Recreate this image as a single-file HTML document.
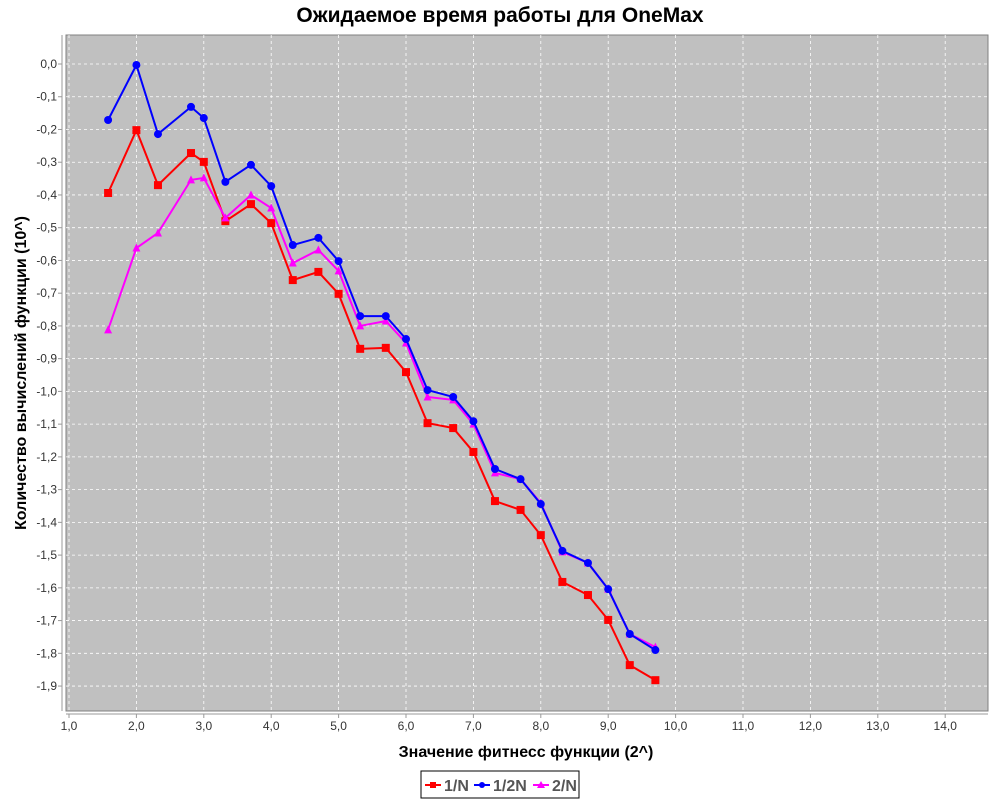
<!DOCTYPE html>
<html><head><meta charset="utf-8"><style>
body{margin:0;background:#fff;font-family:"Liberation Sans",sans-serif;}
svg{display:block}
</style></head><body>
<svg id="chart" width="1000" height="800" xmlns="http://www.w3.org/2000/svg">
<text x="500" y="22" text-anchor="middle" font-size="21" font-weight="bold" font-family="Liberation Sans, sans-serif">Ожидаемое время работы для OneMax</text>
<rect x="66" y="35" width="922" height="676" fill="#c0c0c0" stroke="#808080"/>
<g id="grid"></g>
<line x1="62" y1="35" x2="62" y2="711" stroke="#999"/>
<line x1="66" y1="714" x2="988" y2="714" stroke="#999"/>
<g id="ticks" font-size="12" font-family="Liberation Sans, sans-serif" fill="#333"></g>
<g id="series"></g>
<text x="526" y="757" text-anchor="middle" font-size="16" font-weight="bold">Значение фитнесс функции (2^)</text>
<text transform="translate(26,373) rotate(-90)" text-anchor="middle" font-size="16" font-weight="bold">Количество вычислений функции (10^)</text>
<g>
<rect x="421" y="771" width="158" height="27" fill="#fff" stroke="#000"/>
<g><line x1="425" y1="785" x2="441" y2="785" stroke="#f00" stroke-width="2"/><rect x="430" y="782" width="6" height="6" fill="#f00"/><text x="444" y="791" font-size="16" font-weight="bold" fill="#555">1/N</text></g>
<g><line x1="474" y1="785" x2="490" y2="785" stroke="#00f" stroke-width="2"/><circle cx="482" cy="785" r="3" fill="#00f"/><text x="493" y="791" font-size="16" font-weight="bold" fill="#555">1/2N</text></g>
<g><line x1="533" y1="785" x2="549" y2="785" stroke="#f0f" stroke-width="2"/><polygon points="541,781 545,788 537,788" fill="#f0f"/><text x="552" y="791" font-size="16" font-weight="bold" fill="#555">2/N</text></g>
</g>
</svg>
<script>
const xVals=[1.58,2.0,2.32,2.81,3.0,3.32,3.7,4.0,4.32,4.7,5.0,5.32,5.7,6.0,6.32,6.7,7.0,7.32,7.7,8.0,8.32,8.7,9.0,9.32,9.7];
const red=[-0.394,-0.202,-0.370,-0.272,-0.299,-0.480,-0.428,-0.486,-0.660,-0.635,-0.702,-0.870,-0.867,-0.941,-1.097,-1.112,-1.185,-1.335,-1.362,-1.439,-1.582,-1.622,-1.698,-1.836,-1.882];
const blue=[-0.171,-0.003,-0.214,-0.131,-0.165,-0.360,-0.308,-0.373,-0.553,-0.531,-0.602,-0.770,-0.770,-0.840,-0.996,-1.017,-1.091,-1.237,-1.268,-1.344,-1.487,-1.524,-1.604,-1.741,-1.790];
const magenta=[-0.812,-0.562,-0.516,-0.354,-0.348,-0.470,-0.400,-0.440,-0.608,-0.568,-0.632,-0.800,-0.785,-0.852,-1.017,-1.026,-1.100,-1.249,-1.268,-1.341,-1.490,-1.524,-1.604,-1.741,-1.781];
const xTicks=[1,2,3,4,5,6,7,8,9,10,11,12,13,14];
const yTicks=[0,-0.1,-0.2,-0.3,-0.4,-0.5,-0.6,-0.7,-0.8,-0.9,-1.0,-1.1,-1.2,-1.3,-1.4,-1.5,-1.6,-1.7,-1.8,-1.9];
const NS="http://www.w3.org/2000/svg";
function X(v){return 69+(v-1)*67.4;}
function Y(v){return 64-v*327.4;}
function mk(t,a,p){const e=document.createElementNS(NS,t);for(const k in a)e.setAttribute(k,a[k]);p.appendChild(e);return e;}
const grid=document.getElementById('grid'),ticks=document.getElementById('ticks'),ser=document.getElementById('series');
const fmt=v=>v.toFixed(1).replace('.',',').replace('-0,0','0,0');
xTicks.forEach(v=>{
 const g=mk('line',{x1:X(v),y1:35,x2:X(v),y2:711,stroke:'#fff','stroke-dasharray':'3,3','stroke-width':0.8},grid);
 
 
 const tk=mk('line',{x1:X(v),y1:714,x2:X(v),y2:718,stroke:'#999'},ticks);
 
 
 const t=mk('text',{x:X(v),y:730,'text-anchor':'middle'},ticks);t.textContent=fmt(v);
 
 
});
yTicks.forEach(v=>{
 const g=mk('line',{x1:66,y1:Y(v),x2:988,y2:Y(v),stroke:'#fff','stroke-dasharray':'3,3','stroke-width':0.8},grid);
 
 
 const tk=mk('line',{x1:58,y1:Y(v),x2:62,y2:Y(v),stroke:'#999'},ticks);
 
 
 const t=mk('text',{x:57,y:Y(v)+4,'text-anchor':'end'},ticks);t.textContent=fmt(v);
 
 
});
function draw(vals,color,shape,name){
 const g=mk('g',{},ser);
 
 
 const pl=mk('polyline',{points:vals.map((v,i)=>X(xVals[i])+','+Y(v)).join(' '),fill:'none',stroke:color,'stroke-width':2},g);
 
 
 vals.forEach((v,i)=>{
  const x=X(xVals[i]),y=Y(v);let m;
  if(shape==='sq')m=mk('rect',{x:x-4,y:y-4,width:8,height:8,fill:color},g);
  else if(shape==='c')m=mk('circle',{cx:x,cy:y,r:4,fill:color},g);
  else m=mk('polygon',{points:`${x},${y-4.5} ${x+4},${y+3.5} ${x-4},${y+3.5}`,fill:color},g);
  
  
 });
}
draw(red,'#f00','sq','series-1n');
draw(magenta,'#f0f','t','series-2n');
draw(blue,'#00f','c','series-12n');
</script>
</body></html>
